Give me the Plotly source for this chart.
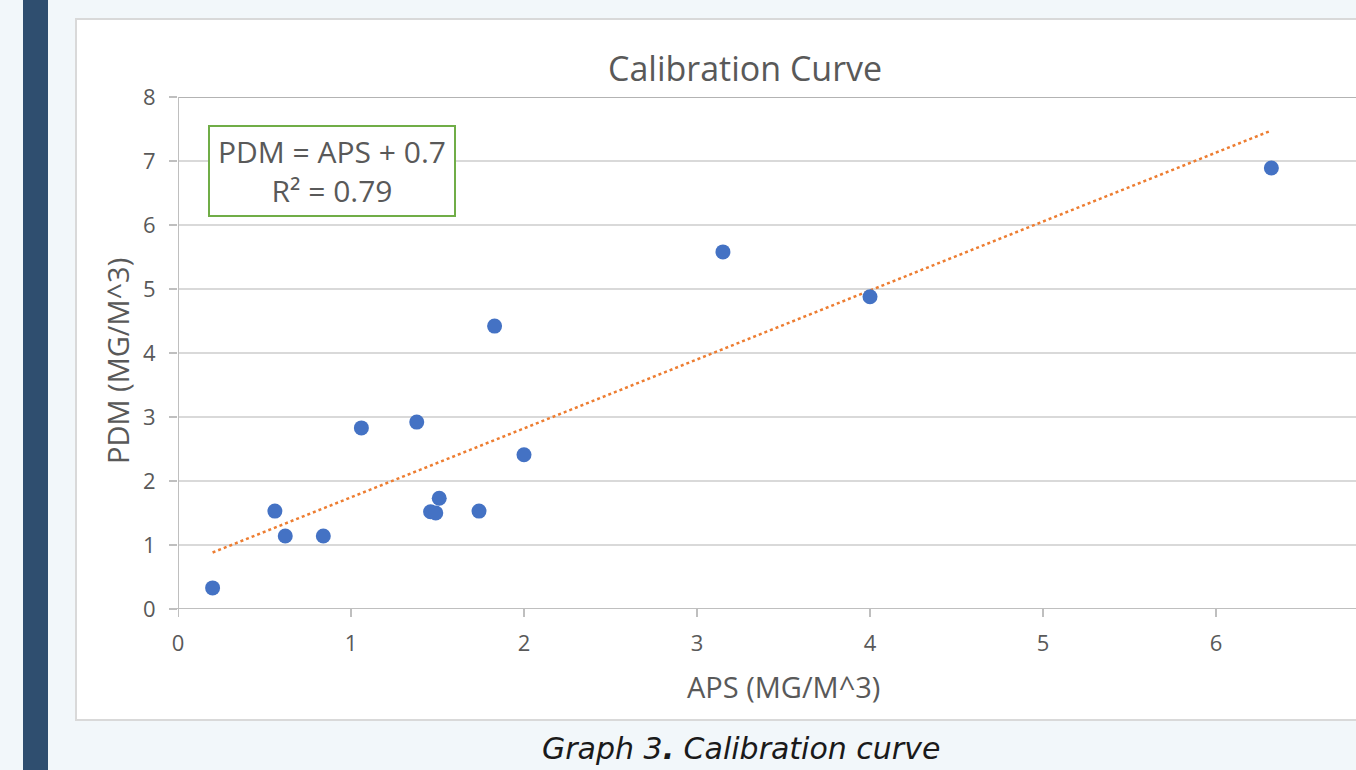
import numpy as np
import plotly.graph_objects as go

# ---- data ----
aps = [0.20, 0.56, 0.62, 0.84, 1.06, 1.38, 1.46, 1.49, 1.51, 1.74, 1.83, 2.00, 3.15, 4.00, 6.32]
pdm = [0.33, 1.53, 1.14, 1.14, 2.83, 2.92, 1.52, 1.50, 1.73, 1.53, 4.42, 2.41, 5.58, 4.88, 6.89]
x_ticks = [0, 1, 2, 3, 4, 5, 6]
y_ticks = [0, 1, 2, 3, 4, 5, 6, 7, 8]
title = "Calibration Curve"
eq_text = "PDM = APS + 0.7<br>R² = 0.79"
caption = "Graph 3<b>.</b> Calibration curve"

W, H = 1356, 770
L, R, T, B = 178, 0, 97, 161
PW, PH = W - L - R, H - T - B
FONT = "Open Sans"
GREY = "#595959"

slope, inter = np.polyfit(aps, pdm, 1)
tx = np.array([min(aps), max(aps)])
ty = slope * tx + inter

fig = go.Figure()
fig.add_trace(go.Scatter(x=tx, y=ty, mode="lines",
                         line=dict(color="#ed7d31", width=2.5, dash="dot"),
                         hoverinfo="skip", showlegend=False))
fig.add_trace(go.Scatter(x=aps, y=pdm, mode="markers",
                         marker=dict(color="#4472c4", size=15, line=dict(width=0)),
                         showlegend=False))


def px2x(p):
    return (p - L) / PW


def py2y(p):
    return (H - B - p) / PH


shapes = [
    # left bar
    dict(type="rect", xref="paper", yref="paper", x0=px2x(23), x1=px2x(48), y0=py2y(H + 5), y1=py2y(-5),
         fillcolor="#2f4e6f", line=dict(width=0), layer="below"),
    # white chart box
    dict(type="rect", xref="paper", yref="paper", x0=px2x(76), x1=px2x(1365), y0=py2y(720), y1=py2y(19),
         fillcolor="white", line=dict(color="#d9d9d9", width=2), layer="below"),
    # top line at 8
    dict(type="line", xref="paper", yref="y", x0=0, x1=1.0, y0=8, y1=8,
         line=dict(color="#b3b3b3", width=2), layer="below"),
    # x axis line
    dict(type="line", xref="paper", yref="y", x0=-8 / PW, x1=1.0, y0=0, y1=0,
         line=dict(color="#bfbfbf", width=2)),
    # y axis line
    dict(type="line", xref="x", yref="paper", x0=0, x1=0, y0=0, y1=1,
         line=dict(color="#bfbfbf", width=2)),
]
for t in x_ticks:
    shapes.append(dict(type="line", xref="x", yref="paper", x0=t, x1=t, y0=-8 / PH, y1=0,
                       line=dict(color="#bfbfbf", width=2)))

fig.update_layout(
    width=W, height=H,
    margin=dict(l=L, r=R, t=T, b=B, pad=0),
    paper_bgcolor="#f2f7fa",
    plot_bgcolor="rgba(0,0,0,0)",
    shapes=shapes,
    font=dict(family=FONT, color=GREY),
    xaxis=dict(range=[0, PW / 173.0], tickvals=x_ticks, showgrid=False,
               zeroline=False, showline=False, ticks="", ticklabelstandoff=19,
               tickfont=dict(size=22, color=GREY)),
    yaxis=dict(range=[0, 8], tickvals=y_ticks, showgrid=True, gridcolor="#d9d9d9", gridwidth=2,
               zeroline=False, showline=False, ticks="outside", ticklen=8, tickwidth=2,
               tickcolor="#bfbfbf", ticklabelstandoff=9, tickfont=dict(size=22, color=GREY)),
    annotations=[
        dict(text=title, xref="paper", yref="paper", x=px2x(745), y=py2y(68),
             xanchor="center", yanchor="middle", showarrow=False,
             font=dict(size=34, color=GREY, family=FONT)),
        dict(text="APS (MG/M^3)", xref="paper", yref="paper", x=px2x(783), y=py2y(686),
             xanchor="center", yanchor="middle", showarrow=False,
             font=dict(size=29, color=GREY, family=FONT)),
        dict(text="PDM (MG/M^3)", xref="paper", yref="paper", x=px2x(117), y=py2y(361),
             xanchor="center", yanchor="middle", showarrow=False, textangle=-90,
             font=dict(size=29, color=GREY, family=FONT)),
        dict(text=eq_text, xref="paper", yref="paper", x=px2x(332), y=py2y(171),
             xanchor="center", yanchor="middle", showarrow=False,
             bordercolor="#70ad47", borderwidth=2, borderpad=0, bgcolor="white",
             width=244, height=88, align="center",
             font=dict(size=30, color=GREY, family=FONT)),
        dict(text=caption, xref="paper", yref="paper", x=px2x(741), y=py2y(748),
             xanchor="center", yanchor="middle", showarrow=False,
             font=dict(size=30, color="#1a1a1a", family="DejaVu Sans", style="italic")),
    ],
)

fig.write_html("out.html")
